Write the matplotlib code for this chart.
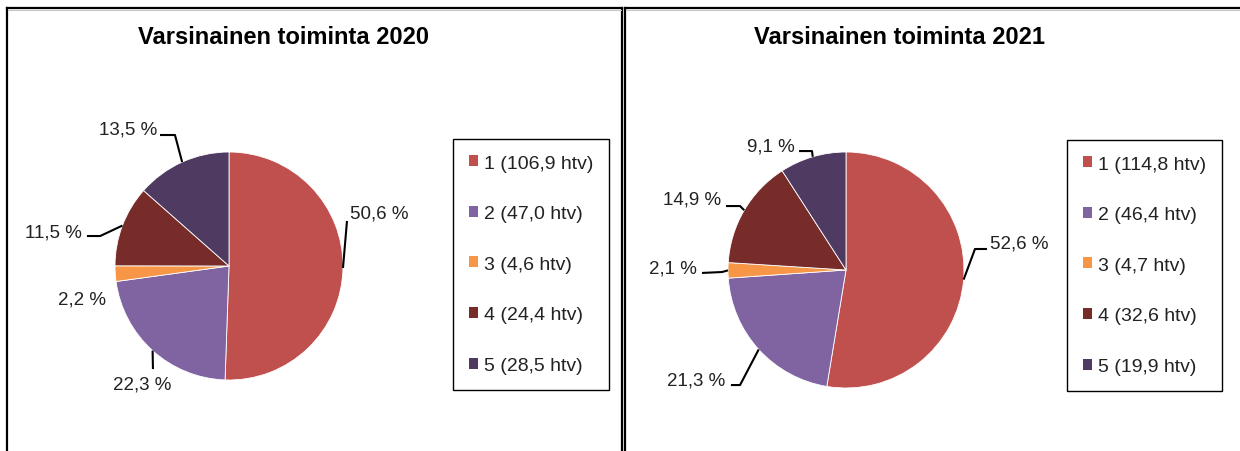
import matplotlib
matplotlib.use("Agg")
import matplotlib.pyplot as plt
from matplotlib.patches import Patch
from matplotlib.lines import Line2D
import numpy as np

plt.rcParams['font.family'] = ['Liberation Sans', 'DejaVu Sans']

# data
categories = ['1', '2', '3', '4', '5']
htv_2020 = [106.9, 47.0, 4.6, 24.4, 28.5]
htv_2021 = [114.8, 46.4, 4.7, 32.6, 19.9]
pct_2020 = [50.6, 22.3, 2.2, 11.5, 13.5]
pct_2021 = [52.6, 21.3, 2.1, 14.9, 9.1]
titles = ['Varsinainen toiminta 2020', 'Varsinainen toiminta 2021']
colors = ['#C0504D', '#8064A2', '#F79646', '#772C2A', '#4F3A62']

W, H = 1240, 452


def fx(x):
	return x / W


def fy(y):
	return 1 - y / H


# label placement in pie-radius units: text position, alignment, leader path (edge -> text)
layout_2020 = [
	dict(text=(1.06, 0.465), ha='left', path=[(1.035, 0.395)]),
	dict(text=(-0.763, -1.035), ha='center', path=[(-0.667, -0.904)]),
	dict(text=(-1.08, -0.29), ha='right', path=None),
	dict(text=(-1.29, 0.298), ha='right', path=[(-1.13, 0.263), (-1.246, 0.263)]),
	dict(text=(-0.63, 1.20), ha='right', path=[(-0.474, 1.149), (-0.605, 1.149)]),
]
layout_2021 = [
	dict(text=(1.22, 0.229), ha='left', path=[(1.093, 0.178), (1.195, 0.178)]),
	dict(text=(-1.025, -0.932), ha='right', path=[(-0.898, -0.975), (-0.975, -0.975)]),
	dict(text=(-1.263, 0.017), ha='right', path=[(-1.05, -0.017), (-1.22, -0.025)]),
	dict(text=(-1.059, 0.602), ha='right', path=[(-0.898, 0.542), (-1.017, 0.542)]),
	dict(text=(-0.432, 1.051), ha='right', path=[(-0.288, 1.008), (-0.398, 1.008)]),
]

fig = plt.figure(figsize=(W / 100, H / 100), dpi=100)


def draw_pie(cx, cy, r, pcts, layout, lim=1.6):
	side = 2 * r * lim
	ax = fig.add_axes([fx(cx - side / 2), fy(cy + side / 2), side / W, side / H])
	wedges, _ = ax.pie(pcts, colors=colors, startangle=90, counterclock=False,
					   wedgeprops=dict(edgecolor='white', linewidth=0.6))
	ax.set_xlim(-lim, lim)
	ax.set_ylim(-lim, lim)
	ax.set_aspect('equal')
	ax.axis('off')
	for w, p, lay in zip(wedges, pcts, layout):
		mid = np.deg2rad((w.theta1 + w.theta2) / 2)
		edge = (np.cos(mid), np.sin(mid))
		if lay['path']:
			pts = [edge] + lay['path']
			xs, ys = zip(*pts)
			ax.plot(xs, ys, color='black', lw=1.5, clip_on=False, solid_capstyle='butt')
		label = f"{p:.1f} %".replace('.', ',')
		ax.text(lay['text'][0], lay['text'][1], label, ha=lay['ha'], va='center',
				fontsize=13.5, color='#222222', clip_on=False)
	return ax


def draw_legend(x, y, htv):
	handles = [Patch(facecolor=c, edgecolor='none') for c in colors]
	labels = [f"{c} ({v:.1f} htv)".replace('.', ',') for c, v in zip(categories, htv)]
	leg = fig.legend(handles, labels, loc='upper left', bbox_to_anchor=(fx(x), fy(y)),
					 fontsize=14, handlelength=0.5, handleheight=0.5, handletextpad=0.3,
					 labelspacing=1.73, borderpad=0.8, borderaxespad=0, fancybox=False,
					 framealpha=1, edgecolor='black')
	leg.get_frame().set_linewidth(1.0)
	for t in leg.get_texts():
		t.set_color('#222222')


draw_pie(229, 267, 114, pct_2020, layout_2020)
draw_pie(846, 271, 118, pct_2021, layout_2021)
draw_legend(453, 140, htv_2020)
draw_legend(1067, 141, htv_2021)

fig.text(fx(283), fy(37), titles[0], ha='center', va='center', fontsize=17, fontweight='bold')
fig.text(fx(900), fy(37), titles[1], ha='center', va='center', fontsize=17, fontweight='bold')

# panel borders
border = dict(color='black', lw=1.6, transform=fig.transFigure, solid_capstyle='projecting')
for xs, ys in [([7, 7], [9, 452]), ([7, 622], [9, 9]), ([622, 622], [9, 452]),
			   ([625, 625], [9, 452]), ([625, 1240], [9, 9])]:
	fig.add_artist(Line2D([fx(v) for v in xs], [fy(v) for v in ys], **border))
for xs in ([8, 621], [626, 1240]):
	fig.add_artist(Line2D([fx(v) for v in xs], [fy(11), fy(11)], color='#c8c8c8', lw=0.8,
						  transform=fig.transFigure))

fig.savefig('out.png', dpi=100)
